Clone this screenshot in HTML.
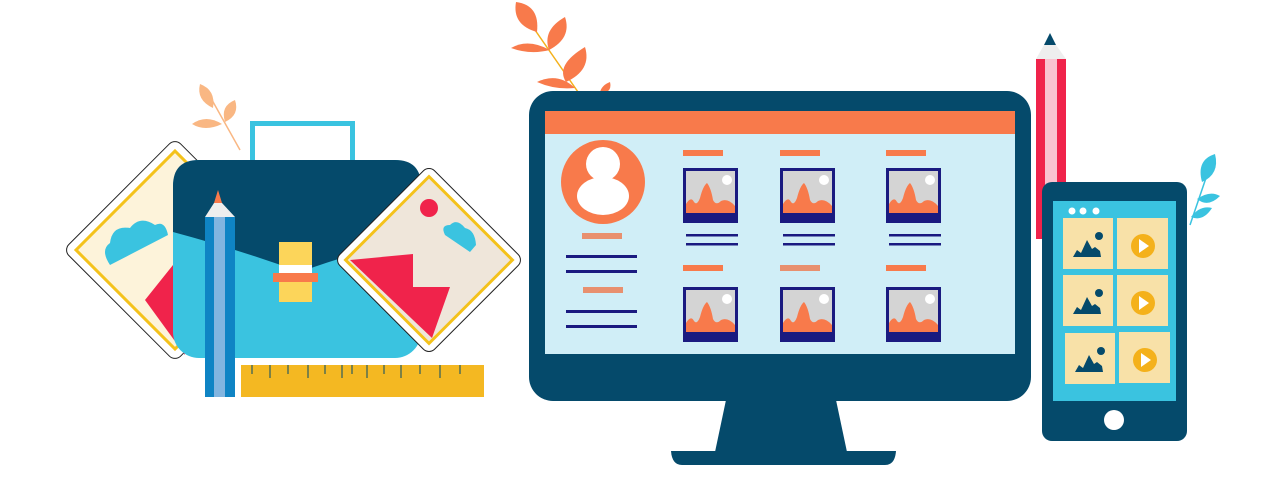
<!DOCTYPE html>
<html><head><meta charset="utf-8"><style>html,body{margin:0;padding:0;background:#fff;width:1280px;height:489px;overflow:hidden}</style></head>
<body>
<svg width="1280" height="489" viewBox="0 0 1280 489" xmlns="http://www.w3.org/2000/svg">
<defs>
<g id="img">
<rect x="0" y="0" width="55" height="55" fill="#1a1a80"/>
<rect x="3" y="3" width="49" height="42" fill="#d4d4d4"/>
<path d="M3 45 L3 36 Q8 28 11 34 Q14 38 17 30 Q20 18 24 15 Q28 20 30 32 Q33 38 38 33 Q45 30 52 38 L52 45 Z" fill="#f87a4b"/>
<circle cx="44" cy="12" r="5" fill="#fff"/>
</g>
<g id="tileimg">
<rect width="50" height="51" fill="#f8e1a8"/>
<path d="M10 39 L14 32 L18 35 L24 22 L29 31 L32 29 L37 33 L38 39 Z" fill="#054a6b"/>
<circle cx="36" cy="18" r="4" fill="#054a6b"/>
</g>
<g id="tileplay">
<rect width="51" height="51" fill="#f8e1a8"/>
<circle cx="26" cy="28" r="12" fill="#f4b11b"/>
<path d="M22 21 L32 28 L22 35 Z" fill="#fff"/>
</g>
</defs>

<!-- orange leaves top -->
<g fill="#f87a4b">
<line x1="535" y1="30" x2="578" y2="92" stroke="#f4b11b" stroke-width="1.5"/>
<path d="M537 32 Q512 25 516 2 Q540 5 537 32 Z"/>
<path d="M550 50 Q530 55 511 48 Q528 38 550 50 Z"/>
<path d="M549 50 Q542 30 565 17 Q572 38 549 50 Z"/>
<path d="M566 82 Q555 65 585 47 Q592 70 566 82 Z"/>
<path d="M575 88 Q555 90 537 82 Q558 72 575 88 Z"/>
<path d="M600 92 Q602 85 610 82 Q612 90 605 93 Z"/>
</g>

<!-- pale orange leaves left -->
<g fill="#f8a665" opacity="0.8">
<line x1="212" y1="100" x2="240" y2="150" stroke="#f8a665" stroke-width="1.5"/>
<path d="M213 108 Q196 100 200 84 Q216 90 213 108 Z"/>
<path d="M222 124 Q205 132 192 124 Q206 114 222 124 Z"/>
<path d="M225 122 Q220 106 235 100 Q240 115 225 122 Z"/>
</g>

<!-- left diamond card -->
<g transform="rotate(45 175 250)">
<rect x="96" y="171" width="158" height="158" rx="8" fill="#fff" stroke="#222" stroke-width="1"/>
<rect x="105" y="180" width="140" height="140" fill="#fdf3da" stroke="#f4c21b" stroke-width="3"/>
</g>
<path d="M110 265 Q100 250 110 243 Q112 225 130 228 Q140 215 155 225 Q165 220 168 235 Z" fill="#3ac3e0"/>
<path d="M145 300 L185 250 L185 355 Z" fill="#f0234b"/>

<!-- handle -->
<rect x="252.5" y="123.5" width="100" height="40" fill="none" stroke="#3ac3e0" stroke-width="5"/>
<!-- briefcase -->
<rect x="173" y="160" width="248" height="198" rx="26" fill="#3ac3e0"/>
<path d="M199 160 H395 Q421 160 421 186 V238 Q360 250 300 272 Q240 250 173 232 V186 Q173 160 199 160 Z" fill="#054a6b"/>
<rect x="279" y="242" width="33" height="60" fill="#fcd55a"/>
<rect x="279" y="265" width="33" height="8" fill="#fff"/>
<rect x="273" y="273" width="45" height="9" fill="#f87a4b"/>

<!-- right diamond card -->
<g transform="rotate(45 429 260)">
<rect x="362" y="193" width="134" height="134" rx="8" fill="#fff" stroke="#222" stroke-width="1"/>
<rect x="370" y="201" width="118" height="118" fill="#efe6da" stroke="#f4c21b" stroke-width="3"/>
</g>
<circle cx="429" cy="208" r="9" fill="#f0234b"/>
<path d="M445 235 Q440 225 450 225 Q457 218 465 228 Q475 230 476 245 L470 252 Z" fill="#3ac3e0"/>
<path d="M350 260 L413 254 L413 287 L450 287 L432 338 Z" fill="#f0234b"/>

<!-- left pencil -->
<polygon points="218,190 222,203 214,203" fill="#f87a4b"/>
<polygon points="214,203 222,203 235,217 205,217" fill="#eee"/>
<rect x="205" y="217" width="30" height="180" fill="#0f84c4"/>
<rect x="214" y="217" width="11" height="180" fill="#82b5e0"/>

<!-- ruler -->
<rect x="241" y="365" width="243" height="32" fill="#f4b822"/>
<g stroke="#054a6b" stroke-width="1">
<line x1="252" y1="365" x2="252" y2="374"/><line x1="270" y1="365" x2="270" y2="378"/><line x1="288" y1="365" x2="288" y2="374"/><line x1="308" y1="365" x2="308" y2="378"/><line x1="325" y1="365" x2="325" y2="374"/><line x1="342" y1="365" x2="342" y2="378"/><line x1="352" y1="365" x2="352" y2="374"/><line x1="367" y1="365" x2="367" y2="378"/><line x1="384" y1="365" x2="384" y2="374"/><line x1="401" y1="365" x2="401" y2="378"/><line x1="420" y1="365" x2="420" y2="374"/><line x1="440" y1="365" x2="440" y2="378"/><line x1="460" y1="365" x2="460" y2="374"/>
</g>

<!-- monitor -->
<rect x="529" y="91" width="502" height="310" rx="24" fill="#054a6b"/>
<rect x="545" y="111" width="470" height="243" fill="#d0eef7"/>
<rect x="545" y="111" width="470" height="23" fill="#f87a4b"/>
<polygon points="726,400 836,400 847,452 715,452" fill="#054a6b"/>
<path d="M671 451 H896 Q895 465 885 465 H682 Q672 465 671 451 Z" fill="#054a6b"/>
<circle cx="603" cy="182" r="42" fill="#f87a4b"/>
<circle cx="603" cy="164" r="17" fill="#fff"/>
<ellipse cx="603" cy="196" rx="26" ry="19" fill="#fff"/>
<g fill="#e8906f"><rect x="582" y="233" width="40" height="6"/><rect x="583" y="287" width="40" height="6"/></g>
<g fill="#1a1a80"><rect x="566" y="255" width="71" height="3"/><rect x="566" y="270" width="71" height="3"/><rect x="566" y="310" width="71" height="3"/><rect x="566" y="325" width="71" height="3"/></g>
<g fill="#f87a4b">
<rect x="683" y="150" width="40" height="6"/><rect x="780" y="150" width="40" height="6"/><rect x="886" y="150" width="40" height="6"/>
<rect x="683" y="265" width="40" height="6"/><rect x="780" y="265" width="40" height="6" fill="#e8906f"/><rect x="886" y="265" width="40" height="6"/>
</g>
<use href="#img" x="683" y="168"/><use href="#img" x="780" y="168"/><use href="#img" x="886" y="168"/>
<use href="#img" x="683" y="287"/><use href="#img" x="780" y="287"/><use href="#img" x="886" y="287"/>
<g fill="#1a1a80">
<rect x="686" y="234" width="52" height="2.5"/><rect x="686" y="243" width="52" height="2.5"/>
<rect x="783" y="234" width="52" height="2.5"/><rect x="783" y="243" width="52" height="2.5"/>
<rect x="889" y="234" width="52" height="2.5"/><rect x="889" y="243" width="52" height="2.5"/>
</g>

<!-- right pencil -->
<polygon points="1050,33 1056,45 1044,45" fill="#054a6b"/>
<polygon points="1044,45 1056,45 1066,59 1036,59" fill="#eee"/>
<rect x="1036" y="59" width="30" height="180" fill="#f0234b"/>
<rect x="1045" y="59" width="12" height="180" fill="#f9c3d0"/>

<!-- blue leaves -->
<g fill="#3ac3e0">
<line x1="1190" y1="225" x2="1208" y2="172" stroke="#3ac3e0" stroke-width="1.5"/>
<path d="M1202 182 Q1196 160 1215 154 Q1220 174 1202 182 Z"/>
<path d="M1197 199 Q1210 190 1220 196 Q1208 208 1197 199 Z"/>
<path d="M1191 217 Q1200 205 1212 208 Q1203 222 1191 217 Z"/>
</g>

<!-- phone -->
<rect x="1042" y="182" width="145" height="259" rx="10" fill="#054a6b"/>
<rect x="1053" y="201" width="123" height="200" fill="#3ac3e0"/>
<g fill="#fff"><circle cx="1072" cy="211" r="3.5"/><circle cx="1083" cy="211" r="3.5"/><circle cx="1096" cy="211" r="3.5"/></g>
<use href="#tileimg" x="1063" y="218"/><use href="#tileplay" x="1117" y="218"/>
<use href="#tileimg" x="1063" y="275"/><use href="#tileplay" x="1117" y="275"/>
<use href="#tileimg" x="1065" y="333"/><use href="#tileplay" x="1119" y="332"/>
<circle cx="1114" cy="420" r="10" fill="#fff"/>
</svg>
</body></html>
